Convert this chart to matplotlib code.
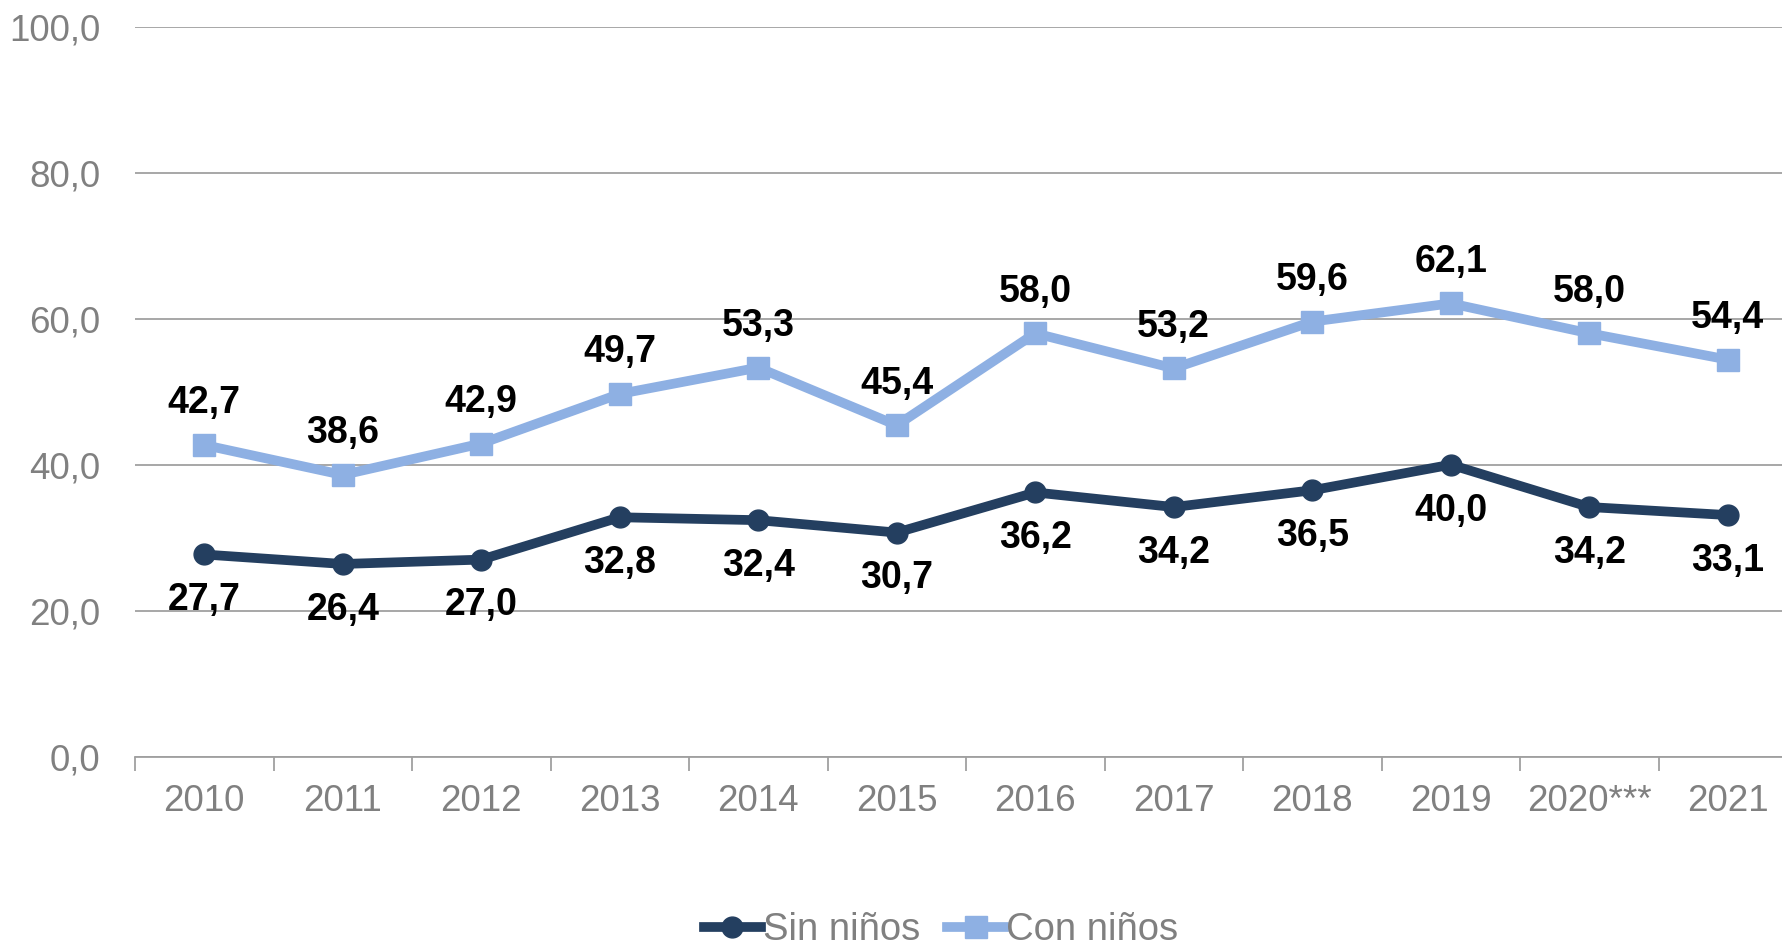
import matplotlib
matplotlib.use("Agg")
import matplotlib.pyplot as plt
from matplotlib.lines import Line2D

years = ["2010", "2011", "2012", "2013", "2014", "2015", "2016", "2017", "2018", "2019", "2020***", "2021"]
sin_ninos = [27.7, 26.4, 27.0, 32.8, 32.4, 30.7, 36.2, 34.2, 36.5, 40.0, 34.2, 33.1]
con_ninos = [42.7, 38.6, 42.9, 49.7, 53.3, 45.4, 58.0, 53.2, 59.6, 62.1, 58.0, 54.4]
yticks = [0, 20, 40, 60, 80, 100]

dark = "#243F60"
light = "#8EB0E3"
gray = "#808080"

plt.rcParams['font.family'] = ['Liberation Sans', 'DejaVu Sans']

fig = plt.figure(figsize=(17.83, 9.51), dpi=100)
ax = fig.add_axes([135/1783, 1 - 756.7/951, 1662/1783, (756.7 - 26.7)/951])

x = list(range(len(years)))
ax.plot(x, sin_ninos, color=dark, lw=7, marker='o', ms=15, zorder=4, label="Sin niños")
ax.plot(x, con_ninos, color=light, lw=7, marker='s', ms=16, zorder=4, label="Con niños")

def fmt(v):
    return f"{v:.1f}".replace(".", ",")

for xi, v in zip(x, sin_ninos):
    ax.annotate(fmt(v), (xi, v), xytext=(0, -33), textcoords='offset points',
                ha='center', va='center', fontsize=27, fontweight='bold', color='black', zorder=5)
for xi, v in zip(x, con_ninos):
    ax.annotate(fmt(v), (xi, v), xytext=(0, 30), textcoords='offset points',
                ha='center', va='center', fontsize=27, fontweight='bold', color='black', zorder=5)

ax.set_xlim(-0.5, len(years) - 0.5)
ax.set_ylim(0, 100)
ax.set_yticks(yticks)
ax.set_yticklabels([fmt(t) for t in yticks], fontsize=26.5, color=gray)
ax.set_xticks(x)
ax.set_xticklabels(years, fontsize=26.5, color=gray)
ax.set_xticks([i - 0.5 for i in range(len(years) + 1)], minor=True)
ax.tick_params(axis='x', which='major', length=0, pad=20)
ax.tick_params(axis='x', which='minor', length=10, width=1.3, color='#A0A0A0', direction='out')
ax.tick_params(axis='y', length=0, pad=25)
ax.yaxis.grid(True, color='#A0A0A0', lw=1.3)
ax.set_axisbelow(True)
for s in ['left', 'right', 'top']:
    ax.spines[s].set_visible(False)
ax.spines['bottom'].set_color('#A0A0A0')
ax.spines['bottom'].set_linewidth(1.3)

handles = [Line2D([], [], color=dark, lw=7, marker='o', ms=15),
           Line2D([], [], color=light, lw=7, marker='s', ms=16)]
fig.legend(handles, ["Sin niños", "Con niños"], loc='center', bbox_to_anchor=(941/1783, 1 - 930/951),
           ncol=2, frameon=False, fontsize=27.5, handlelength=1.5, handletextpad=0.05,
           columnspacing=0.7, labelcolor=gray, borderpad=0.1)

fig.savefig("out.png", dpi=100)
